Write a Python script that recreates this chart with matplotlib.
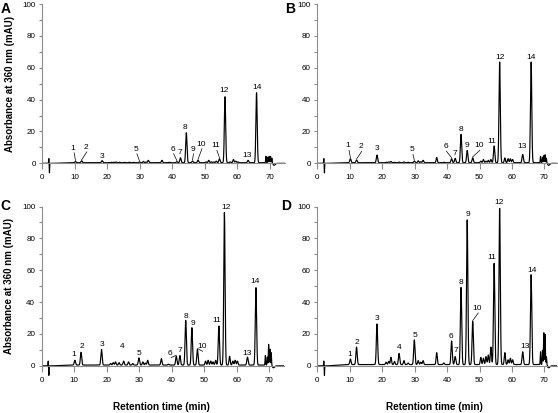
import numpy as np
import matplotlib.pyplot as plt

# retention times (min) of the numbered compounds 1-14
peak_rt = [10.2, 12.1, 18.4, 25.2, 29.9, 41.4, 42.5, 44.3, 46.2, 47.9, 54.5, 56.2, 63.3, 65.9]
peak_names = [str(i) for i in range(1, 15)]

# peak heights (mAU) of the numbered compounds, panels A-D
heights_A = [0.8, 1.2, 1.3, 0.2, 0.5, 0.7, 3.1, 18.8, 1.0, 1.5, 2.5, 41.4, 1.5, 43.9]
heights_B = [2.5, 1.7, 4.8, 0.4, 1.0, 2.5, 2.7, 17.8, 7.7, 3.1, 10.5, 63.2, 5.2, 63.2]
heights_C = [3.0, 8.0, 9.8, 2.5, 4.5, 5.5, 6.0, 28.0, 23.5, 9.8, 24.5, 95.8, 5.0, 48.6]
heights_D = [3.5, 11.0, 25.5, 7.0, 15.5, 14.8, 5.0, 48.4, 90.8, 27.0, 63.5, 98.0, 8.0, 56.4]

# unnumbered minor peaks
minor_rt = [21.2, 22.0, 22.7, 23.8, 26.7, 28.0, 31.1, 31.9, 32.6, 36.8, 39.0,
            50.4, 51.2, 52.0, 52.7, 53.5, 57.8, 58.8, 59.5, 60.2,
            68.8, 69.4, 69.8, 70.2, 70.6]
minor_A = [0.3, 0.3, 0.5, 0.3, 0.3, 0.2, 0.8, 0.4, 1.5, 1.5, 0.3,
           0.5, 1.5, 0.5, 0.5, 1.0, 0.5, 2.0, 1.0, 0.5,
           4.0, 3.5, 4.0, 4.0, 3.0]
minor_B = [0.3, 0.5, 0.8, 0.3, 0.5, 0.3, 1.2, 0.6, 1.5, 3.3, 0.3,
           1.0, 2.0, 1.0, 1.5, 2.0, 3.0, 2.5, 2.5, 2.0,
           4.0, 3.5, 4.5, 5.0, 3.0]
minor_C = [1.0, 1.5, 2.0, 1.5, 2.0, 1.0, 2.0, 1.2, 3.0, 4.0, 0.5,
           2.5, 3.0, 2.5, 2.0, 3.0, 5.5, 2.5, 3.0, 2.5,
           6.0, 5.0, 13.0, 10.0, 8.0]
minor_D = [1.5, 2.0, 4.6, 2.0, 2.5, 1.0, 2.5, 1.5, 2.5, 7.5, 1.0,
           4.5, 4.0, 5.0, 6.0, 11.0, 7.5, 3.0, 4.0, 3.0,
           8.0, 9.0, 20.0, 19.0, 5.0]

# injection artefact and end-of-run dip
artefact_rt = [2.0, 2.2, 71.3]
artefact_h = [3.0, -6.0, -1.2]

baseline = {'A': 0.4, 'B': 0.4, 'C': 0.5, 'D': 0.8}

# label positions (x, y, leader line?) per panel, None = not labelled
labels_A = [(9.5, 9.4, True), (13.4, 10.0, True), (18.3, 4.6, False), None,
            (28.8, 8.8, True), (40.1, 8.8, True), (42.4, 6.9, False), (44.0, 22.6, False),
            (46.2, 8.8, True), (48.8, 12.0, True), (53.4, 11.0, True), (56.0, 45.5, False),
            (63.0, 5.0, False), (66.0, 47.6, False)]
labels_B = [(9.5, 10.9, True), (13.4, 10.4, True), (18.3, 9.4, False), None,
            (29.2, 8.4, True), (39.5, 10.4, True), (42.5, 6.3, False), (44.3, 21.3, False),
            (46.1, 11.0, False), (49.8, 11.0, True), (53.7, 13.6, False), (56.2, 66.5, False),
            (63.2, 10.4, False), (65.8, 66.5, False)]
labels_C = [(9.9, 7.0, False), (12.4, 11.9, False), (18.5, 13.6, False), (24.8, 11.9, False),
            (30.0, 7.6, False), (39.5, 8.0, True), (42.6, 9.9, False), (44.3, 31.2, False),
            (46.5, 26.6, False), (49.2, 11.9, True), (54.0, 28.3, False), (56.7, 99.4, False),
            (63.1, 7.6, False), (65.6, 52.7, False)]
labels_D = [(10.0, 7.3, False), (12.2, 14.7, False), (18.4, 29.8, False), (25.2, 11.5, False),
            (30.0, 19.3, False), (41.3, 18.7, False), (42.6, 9.4, False), (44.2, 52.3, False),
            (46.4, 95.2, False), (49.3, 36.0, True), (53.8, 67.8, False), (56.1, 102.3, False),
            (63.9, 11.9, False), (66.3, 60.1, False)]

panels = [
    ('A', heights_A, minor_A, labels_A),
    ('B', heights_B, minor_B, labels_B),
    ('C', heights_C, minor_C, labels_C),
    ('D', heights_D, minor_D, labels_D),
]

W, H = 558, 413
fig = plt.figure(figsize=(W / 100, H / 100), dpi=100)
plt.rcParams['font.family'] = ['Liberation Sans', 'DejaVu Sans']

# axes rectangles in pixels: left, top (of ylim 100), right, bottom (of ylim -7)
rects = {'A': (42.3, 4.0, 284.5, 174.5), 'B': (317.3, 4.0, 557.4, 174.5),
         'C': (41.7, 206.5, 283.9, 377.0), 'D': (317.3, 206.5, 557.4, 377.0)}
xmax = {'A': 74.5, 'B': 74.0, 'C': 74.5, 'D': 74.0}
letter_pos = {'A': (1, 2), 'B': (285, 2), 'C': (0, 199), 'D': (281, 199)}

t = np.linspace(0, 75, 8000)


def trace(h_main, h_minor, base):
    y = np.zeros_like(t)
    # slow baseline rise after the solvent front, drop at end of run
    y += base * np.clip((t - 3) / 7, 0, 1) * (t < 71)
    for rt, h in zip(peak_rt, h_main):
        y += h * np.exp(-0.5 * ((t - rt) / 0.2) ** 2)
    for rt, h in zip(minor_rt, h_minor):
        s = 0.09 if rt > 68 else 0.18
        y += h * np.exp(-0.5 * ((t - rt) / s) ** 2)
    for i, (rt, h) in enumerate(zip(artefact_rt, artefact_h)):
        s = 0.05 if i < 2 else 0.35
        y += h * np.exp(-0.5 * ((t - rt) / s) ** 2)
    return y


spine_col = '#8c8c8c'
for name, h_main, h_minor, labels in panels:
    l, tp, r, b = rects[name]
    ax = fig.add_axes([l / W, 1 - b / H, (r - l) / W, (b - tp) / H])
    ax.set_xlim(0, xmax[name])
    ax.set_ylim(-7, 100)
    ax.plot(t, trace(h_main, h_minor, baseline[name]), color='black', lw=0.85)

    for s in ['top', 'right']:
        ax.spines[s].set_visible(False)
    ax.spines['bottom'].set_position(('data', 0))
    ax.spines['left'].set_bounds(0, 100)
    for s in ['bottom', 'left']:
        ax.spines[s].set_color(spine_col)
        ax.spines[s].set_linewidth(0.8)
    ax.set_xticks(range(0, 71, 10))
    ax.set_yticks(range(0, 101, 20))
    ax.set_yticks(range(10, 100, 20), minor=True)
    ax.tick_params(axis='x', length=4, width=0.8, color=spine_col, pad=4, labelsize=5.8)
    ax.tick_params(axis='y', which='both', length=2.2, width=0.8, color=spine_col,
                   pad=2.5, labelsize=5.8)
    ax.patch.set_visible(False)

    for i, lab in enumerate(labels):
        if lab is None:
            continue
        tx, ty, leader = lab
        ax.text(tx, ty, peak_names[i], ha='center', va='center', fontsize=6,
                clip_on=False)
        if leader:
            ax.plot([tx + 0.3, peak_rt[i]], [ty - 2.8, h_main[i] + baseline[name] + 0.6],
                    color='black', lw=0.5)

    if name in ('A', 'C'):
        ax.text(-0.133, 57 / 107, 'Absorbance at 360 nm (mAU)', transform=ax.transAxes,
                rotation=90, ha='center', va='center', fontsize=7, fontweight='bold')
    if name in ('C', 'D'):
        cx = 161 if name == 'C' else 434.5
        fig.text(cx / W, 1 - 407 / H, 'Retention time (min)', ha='center', va='center',
                 fontsize=7.2, fontweight='bold')

    lx, ly = letter_pos[name]
    fig.text(lx / W, 1 - ly / H, name, ha='left', va='top', fontsize=10,
             fontweight='bold')

fig.savefig('out.png', dpi=100)
